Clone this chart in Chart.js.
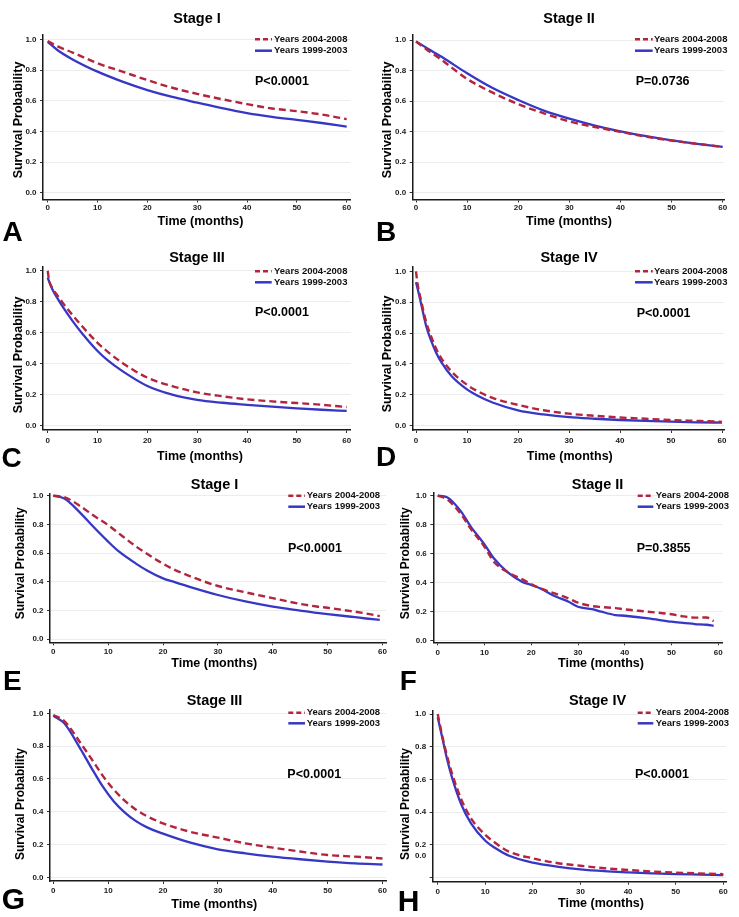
<!DOCTYPE html>
<html><head><meta charset="utf-8">
<script src="https://cdn.jsdelivr.net/npm/chart.js@4.4.1/dist/chart.umd.min.js"></script>
<style>
html,body{margin:0;padding:0;background:#fff;width:739px;height:917px;overflow:hidden;}
#wrap{position:relative;width:739px;height:917px;}
#wrap canvas{position:absolute;left:0;top:0;}
.lbl{position:absolute;font-family:"Liberation Sans",Arial,sans-serif;font-weight:bold;color:#000;line-height:1;white-space:nowrap;}
</style></head><body><div id="wrap"></div>
<script>
// ---------- data ----------
const xTicks = [0, 10, 20, 30, 40, 50, 60];
const yTicks = [0, 0.2, 0.4, 0.6, 0.8, 1.0];
const seriesNames = ['Years 2004-2008', 'Years 1999-2003'];
const titles = ['Stage I', 'Stage II', 'Stage III', 'Stage IV', 'Stage I', 'Stage II', 'Stage III', 'Stage IV'];
const pValues = ['P<0.0001', 'P=0.0736', 'P<0.0001', 'P<0.0001', 'P<0.0001', 'P=0.3855', 'P<0.0001', 'P<0.0001'];
const panelLetters = ['A', 'B', 'C', 'D', 'E', 'F', 'G', 'H'];

const monthsA = [0, 2, 5, 10, 15, 20, 25, 30, 35, 40, 45, 50, 55, 60];
const redA  = [0.99, 0.955, 0.915, 0.845, 0.79, 0.735, 0.685, 0.645, 0.61, 0.578, 0.55, 0.532, 0.51, 0.48];
const blueA = [0.985, 0.93, 0.87, 0.79, 0.725, 0.67, 0.625, 0.588, 0.552, 0.52, 0.495, 0.475, 0.455, 0.432];

const monthsB = [0, 2, 5, 10, 15, 20, 25, 30, 35, 40, 45, 50, 55, 60];
const redB  = [0.99, 0.94, 0.87, 0.745, 0.655, 0.58, 0.52, 0.467, 0.43, 0.398, 0.367, 0.342, 0.32, 0.30];
const blueB = [0.99, 0.95, 0.89, 0.782, 0.685, 0.607, 0.538, 0.485, 0.44, 0.402, 0.37, 0.343, 0.32, 0.30];

const monthsC = [0, 0.3, 1, 2, 3, 5, 7, 10, 12, 15, 20, 25, 30, 35, 40, 45, 50, 55, 60];
const redC  = [1.0, 0.935, 0.885, 0.838, 0.793, 0.713, 0.638, 0.535, 0.478, 0.405, 0.31, 0.255, 0.215, 0.19, 0.17, 0.157, 0.146, 0.135, 0.12];
const blueC = [0.955, 0.93, 0.875, 0.82, 0.768, 0.675, 0.592, 0.482, 0.423, 0.352, 0.256, 0.2, 0.166, 0.148, 0.135, 0.123, 0.112, 0.103, 0.095];

const monthsD = [0, 0.3, 1, 2, 3, 4, 5, 7, 10, 12, 15, 20, 25, 30, 35, 40, 45, 50, 55, 60];
const redD  = [1.0, 0.92, 0.81, 0.67, 0.575, 0.495, 0.435, 0.35, 0.265, 0.225, 0.18, 0.135, 0.1, 0.078, 0.064, 0.053, 0.045, 0.037, 0.031, 0.025];
const blueD = [0.93, 0.89, 0.79, 0.645, 0.548, 0.47, 0.41, 0.32, 0.235, 0.195, 0.15, 0.10, 0.073, 0.055, 0.045, 0.037, 0.031, 0.026, 0.022, 0.02];

const monthsE = [0, 2, 5, 7, 10, 12, 15, 17, 20, 22, 25, 30, 35, 40, 45, 48, 50, 55, 57, 59.5];
const redE  = [1.0, 0.99, 0.925, 0.87, 0.795, 0.735, 0.648, 0.596, 0.525, 0.485, 0.437, 0.37, 0.326, 0.285, 0.245, 0.227, 0.218, 0.19, 0.178, 0.16];
const blueE = [1.0, 0.98, 0.877, 0.795, 0.679, 0.609, 0.528, 0.48, 0.423, 0.398, 0.362, 0.307, 0.262, 0.226, 0.198, 0.182, 0.174, 0.152, 0.143, 0.133];

const monthsF = [0, 2, 5, 7, 10, 12, 15, 18, 20, 22, 25, 28, 30, 33, 35, 38, 40, 45, 50, 52, 55, 57.5, 59];
const redF  = [1.0, 0.975, 0.871, 0.775, 0.648, 0.545, 0.471, 0.425, 0.39, 0.36, 0.326, 0.292, 0.262, 0.239, 0.232, 0.225, 0.216, 0.2, 0.182, 0.17, 0.159, 0.16, 0.135];
const blueF = [1.0, 0.989, 0.89, 0.79, 0.664, 0.568, 0.471, 0.407, 0.384, 0.36, 0.308, 0.269, 0.234, 0.218, 0.2, 0.177, 0.172, 0.154, 0.131, 0.124, 0.115, 0.11, 0.103];

const monthsG = [0, 2, 5, 7, 9, 11, 13, 15, 17, 20, 25, 30, 35, 40, 45, 50, 55, 60];
const redG  = [0.99, 0.953, 0.817, 0.72, 0.62, 0.536, 0.468, 0.414, 0.374, 0.329, 0.277, 0.242, 0.207, 0.181, 0.157, 0.136, 0.126, 0.115];
const blueG = [0.985, 0.939, 0.78, 0.664, 0.554, 0.464, 0.396, 0.344, 0.306, 0.266, 0.211, 0.171, 0.146, 0.126, 0.11, 0.096, 0.085, 0.078];

const monthsH = [0, 1, 2, 3, 5, 7, 10, 12, 15, 20, 25, 30, 35, 40, 45, 50, 55, 60];
const redH  = [1.0, 0.86, 0.74, 0.637, 0.475, 0.363, 0.261, 0.215, 0.159, 0.118, 0.09, 0.073, 0.058, 0.047, 0.038, 0.031, 0.026, 0.022];
const blueH = [0.98, 0.85, 0.72, 0.613, 0.444, 0.332, 0.226, 0.183, 0.134, 0.092, 0.068, 0.051, 0.04, 0.033, 0.027, 0.022, 0.019, 0.016];

const panelData = [
  [monthsA, redA, blueA], [monthsB, redB, blueB], [monthsC, redC, blueC], [monthsD, redD, blueD],
  [monthsE, redE, blueE], [monthsF, redF, blueF], [monthsG, redG, blueG], [monthsH, redH, blueH]
];

// ---------- layout (page pixels) ----------
const FONT = '"Liberation Sans", Arial, Helvetica, sans-serif';
const RED = '#b2253d';
const BLUE = '#3737c6';
const geo = [
  {axX:43, axY:199.5, x0:47.7, x60:346.7, y0:192.7, y1:39.5, top:35, right:350.5, tpx:0.5,
   title:[197,22.7], leg:[255,272,274,39.3,50.7], p:[255,85.3], xt:[200.5,225], yt:[21.7,120], ytSize:12.5},
  {axX:412.7, axY:199.5, x0:416, x60:722.7, y0:192.7, y1:40, top:35, right:724.5, tpx:0.5,
   title:[569,22.7], leg:[635,652.7,654,39.3,50.7], p:[635.7,84.7], xt:[569,225], yt:[390.7,120], ytSize:12.5},
  {axX:43, axY:430, x0:47.7, x60:346.7, y0:425.7, y1:270.7, top:266.7, right:350.7, tpx:2.6,
   title:[197,261.7], leg:[255,271.7,274,271.3,282.3], p:[255,316], xt:[200,459.5], yt:[21.7,355], ytSize:12.5},
  {axX:412.7, axY:430, x0:416, x60:722, y0:425.7, y1:271.3, top:267, right:724, tpx:2.6,
   title:[569,261.7], leg:[635,652.7,654,271.3,282.3], p:[636.7,317.3], xt:[569.8,459.5], yt:[390.7,354], ytSize:12.5},
  {axX:50, axY:642.3, x0:53.3, x60:382.5, y0:639, y1:495.7, top:493.3, right:386, tpx:1.3,
   title:[214.5,489.3], leg:[288.3,305,306.7,495.7,506.7], p:[288,551.7], xt:[214.3,667], yt:[24,563.3], ytSize:12},
  {axX:433.3, axY:642.3, x0:437.7, x60:718.3, y0:640.7, y1:495.7, top:493, right:722.7, tpx:2.3,
   title:[597.5,489.3], leg:[637.7,653.3,655.7,495.7,506.7], p:[636.7,551.7], xt:[601,667], yt:[408.5,563.3], ytSize:12},
  {axX:50, axY:881, x0:53.3, x60:382.5, y0:877.3, y1:713.3, top:710, right:386, tpx:1.9,
   title:[214.5,705], leg:[288.3,305,306.7,712.7,723.3], p:[287.3,778.3], xt:[214.3,908.3], yt:[24,804], ytSize:12},
  {axX:432.7, axY:881.7, x0:437.7, x60:723.3, y0:877.7, y1:714, top:710.7, right:726, tpx:1.9,
   title:[597.5,705], leg:[637.7,653.3,655.7,712.7,723.3], p:[635,778.3], xt:[601,907.3], yt:[408.5,804], ytSize:12,
   hideZero:true, extraLabel:{text:'0.0', value:0.135}}
];
const letterGeo = [
  {x:2.6, y:218.4, s:28}, {x:376, y:218.4, s:28}, {x:1.6, y:444.4, s:28}, {x:376, y:443.4, s:28},
  {x:3, y:667, s:28}, {x:399.7, y:667, s:28}, {x:1.7, y:884, s:30}, {x:397.8, y:886, s:30}
];

// ---------- text plugin ----------
const panelText = {
  id: 'panelText',
  afterDraw(chart, args, o) {
    const ctx = chart.ctx;
    const g = o.g;
    ctx.save();
    ctx.fillStyle = '#000';
    ctx.font = 'bold 14.5px ' + FONT;
    ctx.textAlign = 'center'; ctx.textBaseline = 'alphabetic';
    ctx.fillText(o.title, g.title[0], g.title[1]);
    const [lx1, lx2, tx, r1, r2] = g.leg;
    ctx.lineWidth = 2.5;
    ctx.strokeStyle = RED; ctx.setLineDash([5, 3]);
    ctx.beginPath(); ctx.moveTo(lx1, r1); ctx.lineTo(lx2, r1); ctx.stroke();
    ctx.strokeStyle = BLUE; ctx.setLineDash([]);
    ctx.beginPath(); ctx.moveTo(lx1, r2); ctx.lineTo(lx2, r2); ctx.stroke();
    ctx.fillStyle = '#111';
    ctx.font = 'bold 9.5px ' + FONT;
    ctx.textAlign = 'left'; ctx.textBaseline = 'middle';
    ctx.fillText(seriesNames[0], tx, r1);
    ctx.fillText(seriesNames[1], tx, r2);
    ctx.fillStyle = '#000';
    ctx.font = 'bold 12.5px ' + FONT;
    ctx.textBaseline = 'alphabetic';
    ctx.fillText(o.pText, g.p[0], g.p[1]);
    ctx.textAlign = 'center';
    ctx.fillText('Time (months)', g.xt[0], g.xt[1]);
    ctx.font = 'bold ' + g.ytSize + 'px ' + FONT;
    ctx.translate(g.yt[0], g.yt[1]);
    ctx.rotate(-Math.PI / 2);
    ctx.fillText('Survival Probability', 0, 0);
    ctx.restore();
    if (g.extraLabel) {
      const ys = chart.scales.y;
      ctx.save();
      ctx.fillStyle = '#1a1a1a';
      ctx.font = 'bold 8px ' + FONT;
      ctx.textAlign = 'right'; ctx.textBaseline = 'middle';
      ctx.fillText(g.extraLabel.text, g.axX - 6.5, ys.getPixelForValue(g.extraLabel.value));
      ctx.restore();
    }
  }
};

// ---------- build ----------
const wrap = document.getElementById('wrap');
const YW = 30, XH = 20;
panelData.forEach((pd, i) => {
  const [months, red, blue] = pd;
  const g = geo[i];
  const c = document.createElement('canvas');
  c.width = 739; c.height = 917;
  wrap.appendChild(c);
  const pxM = (g.x60 - g.x0) / 60;
  const pxU = g.y0 - g.y1;
  const xmin = -(g.x0 - g.axX) / pxM, xmax = 60 + (g.right - g.x60) / pxM;
  const ymin = -(g.axY - g.y0) / pxU, ymax = 1 + (g.y1 - g.top) / pxU;
  new Chart(c, {
    type: 'line',
    data: {
      datasets: [
        {label: seriesNames[0], data: months.map((m, k) => ({x: m, y: red[k]})),
         borderColor: RED, borderWidth: 2.4, borderDash: [7, 4], pointRadius: 0, fill: false,
         cubicInterpolationMode: 'monotone'},
        {label: seriesNames[1], data: months.map((m, k) => ({x: m, y: blue[k]})),
         borderColor: BLUE, borderWidth: 2.3, pointRadius: 0, fill: false,
         cubicInterpolationMode: 'monotone'}
      ]
    },
    options: {
      responsive: false, animation: false, events: [],
      layout: {padding: {left: g.axX - YW, top: g.top, right: 739 - g.right, bottom: 917 - XH - g.axY}},
      plugins: {
        legend: {display: false}, title: {display: false}, tooltip: {enabled: false},
        panelText: {g: g, title: titles[i], pText: pValues[i]}
      },
      scales: {
        x: {
          type: 'linear', min: xmin, max: xmax,
          afterBuildTicks: s => { s.ticks = xTicks.map(v => ({value: v})); },
          afterFit: s => { s.height = XH; },
          grid: {drawOnChartArea: false, drawTicks: true, tickLength: 3, tickColor: '#333', tickWidth: 1},
          border: {display: true, color: '#1a1a1a', width: 1.5},
          ticks: {font: {family: FONT, size: 8, weight: 'bold'}, color: '#1a1a1a', padding: g.tpx,
                  maxRotation: 0, autoSkip: false, callback: v => String(v)}
        },
        y: {
          type: 'linear', min: ymin, max: ymax,
          afterBuildTicks: s => { s.ticks = yTicks.map(v => ({value: v})); },
          afterFit: s => { s.width = YW; },
          grid: {color: '#ececec', lineWidth: 1, drawTicks: true, tickLength: 3, tickColor: '#333', tickWidth: 1},
          border: {display: true, color: '#1a1a1a', width: 1.5},
          ticks: {font: {family: FONT, size: 8, weight: 'bold'}, color: '#1a1a1a', padding: 3.5,
                  autoSkip: false, callback: v => (g.hideZero && v === 0) ? '' : v.toFixed(1)}
        }
      }
    },
    plugins: [panelText]
  });
});

panelLetters.forEach((L, i) => {
  const d = document.createElement('div');
  d.className = 'lbl';
  const lg = letterGeo[i];
  d.style.left = lg.x + 'px'; d.style.top = lg.y + 'px';
  d.style.fontSize = lg.s + 'px'; d.style.lineHeight = lg.s + 'px';
  d.textContent = L;
  wrap.appendChild(d);
});
</script>
</body></html>
